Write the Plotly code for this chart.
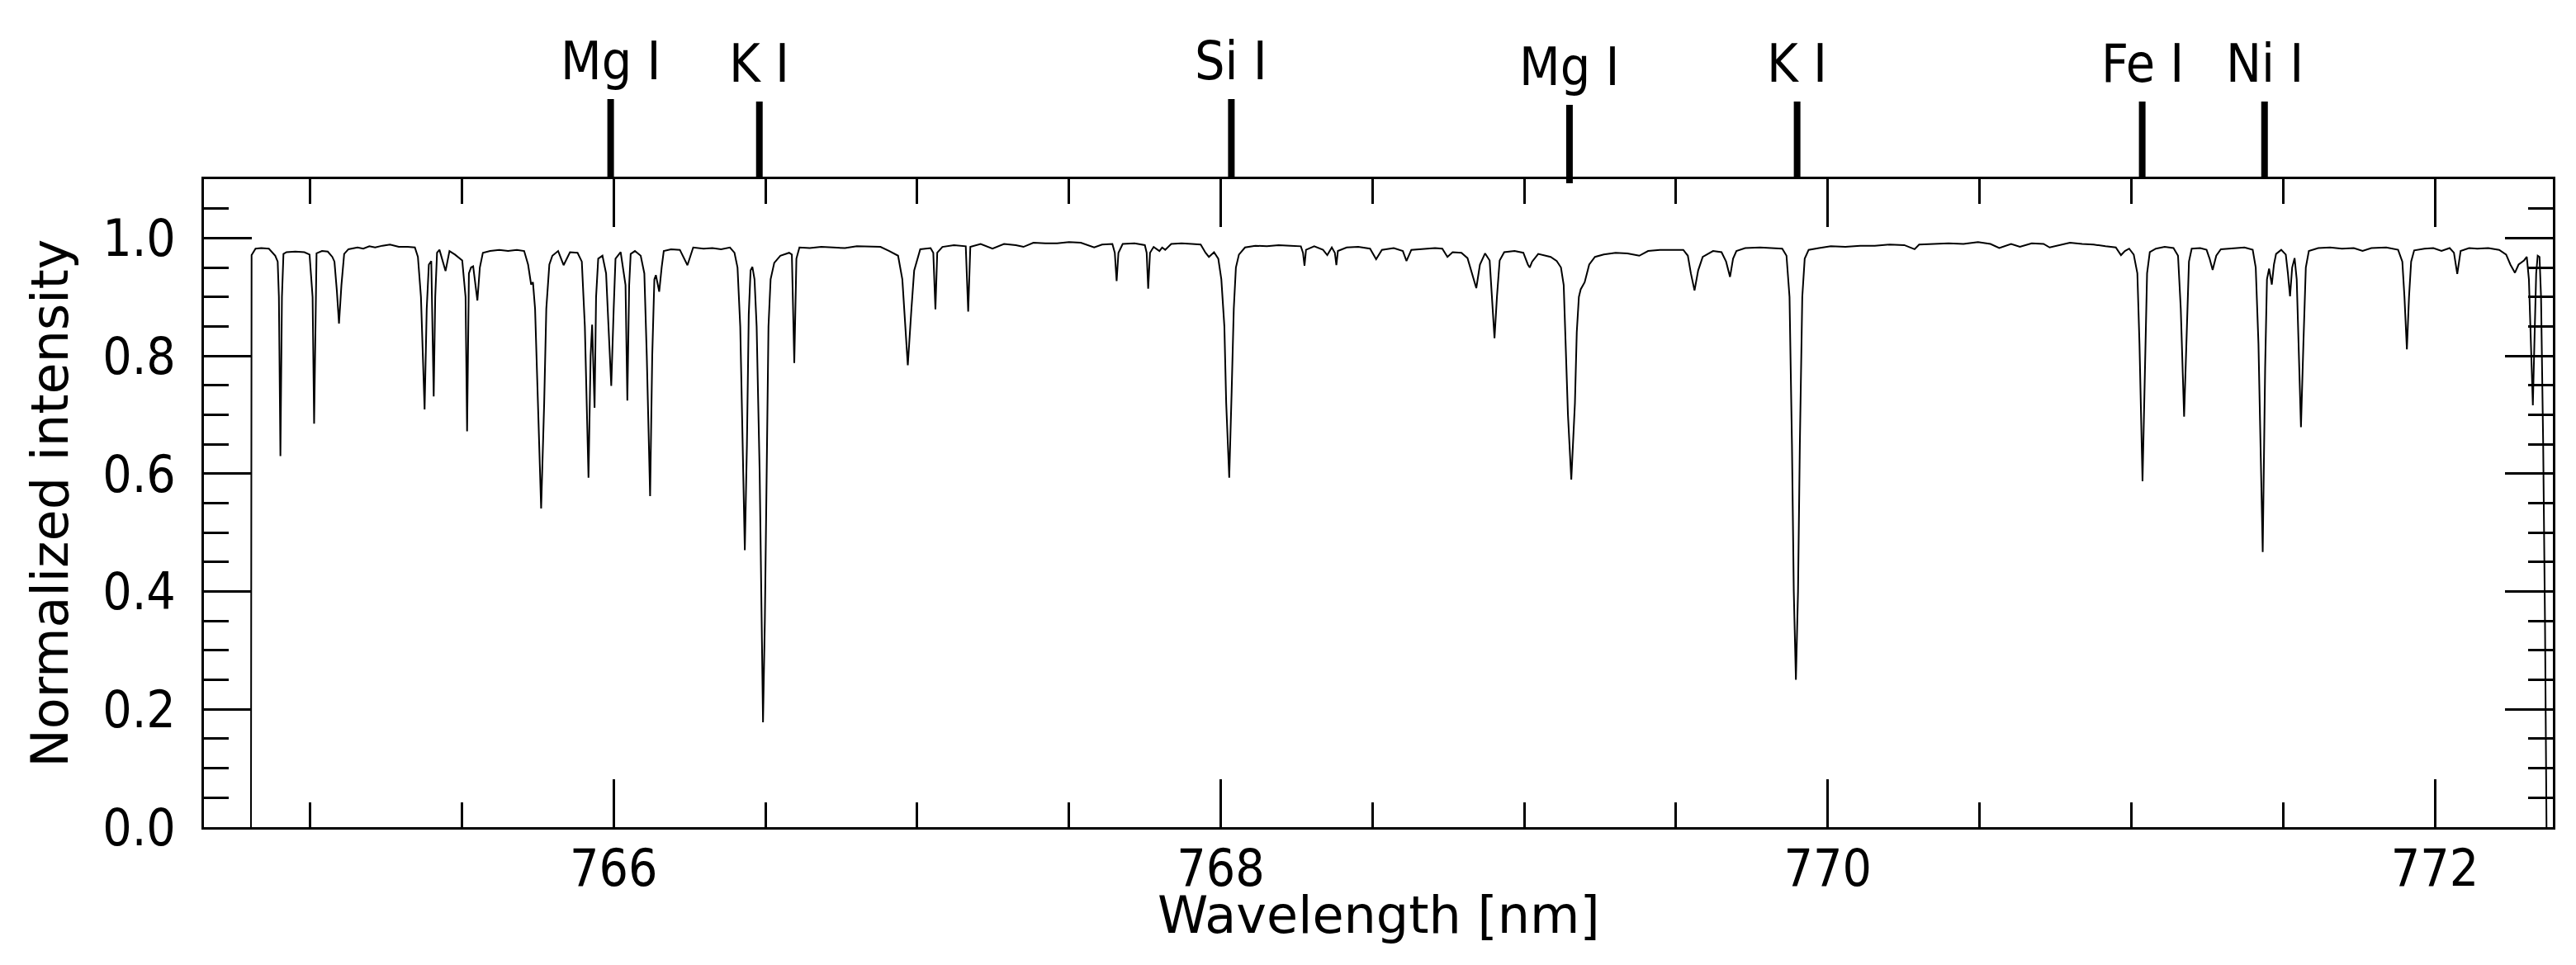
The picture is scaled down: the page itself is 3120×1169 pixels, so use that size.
import plotly.graph_objects as go

# spectrum, point by point
wavelength = [
    764.805, 764.807, 764.820, 764.839, 764.864, 764.885, 764.893, 764.897, 764.902, 764.907, 764.912,
    764.922, 764.951, 764.981, 764.998, 765.008, 765.013, 765.018, 765.021, 765.039, 765.058, 765.073,
    765.080, 765.088, 765.095, 765.103, 765.112, 765.126, 765.156, 765.175, 765.195, 765.214, 765.238,
    765.263, 765.292, 765.321, 765.345, 765.355, 765.365, 765.377, 765.384, 765.391, 765.399, 765.407,
    765.412, 765.418, 765.426, 765.446, 765.459, 765.477, 765.501, 765.512, 765.517, 765.523, 765.530,
    765.537, 765.551, 765.559, 765.569, 765.593, 765.623, 765.652, 765.681, 765.705, 765.718, 765.728,
    765.734, 765.741, 765.749, 765.761, 765.771, 765.778, 765.788, 765.798, 765.817, 765.835, 765.856,
    765.881, 765.895, 765.905, 765.917, 765.924, 765.929, 765.937, 765.942, 765.949, 765.963, 765.975,
    765.982, 765.992, 766.000, 766.006, 766.023, 766.039, 766.045, 766.051, 766.056, 766.070, 766.089,
    766.101, 766.109, 766.120, 766.127, 766.134, 766.139, 766.150, 766.158, 766.165, 766.189, 766.218,
    766.243, 766.262, 766.296, 766.325, 766.354, 766.383, 766.398, 766.408, 766.417, 766.425, 766.432,
    766.439, 766.445, 766.451, 766.457, 766.464, 766.471, 766.481, 766.487, 766.492, 766.498, 766.504,
    766.510, 766.517, 766.529, 766.549, 766.578, 766.587, 766.595, 766.602, 766.612, 766.646, 766.684,
    766.723, 766.762, 766.801, 766.840, 766.879, 766.908, 766.937, 766.951, 766.969, 766.981, 766.990,
    767.010, 767.044, 767.053, 767.060, 767.066, 767.083, 767.121, 767.160, 767.168, 767.175, 767.209,
    767.248, 767.286, 767.325, 767.350, 767.383, 767.422, 767.461, 767.500, 767.539, 767.583, 767.609,
    767.643, 767.651, 767.657, 767.663, 767.677, 767.716, 767.750, 767.756, 767.761, 767.767, 767.779,
    767.798, 767.807, 767.817, 767.837, 767.871, 767.905, 767.934, 767.950, 767.961, 767.978, 767.992,
    768.002, 768.012, 768.018, 768.028, 768.036, 768.043, 768.050, 768.060, 768.080, 768.114, 768.152,
    768.191, 768.230, 768.264, 768.271, 768.276, 768.281, 768.308, 768.337, 768.351, 768.366, 768.376,
    768.381, 768.386, 768.415, 768.453, 768.492, 768.512, 768.531, 768.570, 768.600, 768.612, 768.628,
    768.667, 768.706, 768.730, 768.747, 768.764, 768.793, 768.813, 768.828, 768.842, 768.854, 768.871,
    768.886, 768.894, 768.902, 768.910, 768.919, 768.934, 768.968, 768.997, 769.012, 769.018, 769.026,
    769.046, 769.068, 769.087, 769.107, 769.121, 769.130, 769.138, 769.144, 769.155, 769.167, 769.173,
    769.180, 769.186, 769.199, 769.214, 769.233, 769.262, 769.301, 769.340, 769.379, 769.408, 769.447,
    769.485, 769.524, 769.539, 769.549, 769.561, 769.573, 769.588, 769.622, 769.650, 769.665, 769.678,
    769.688, 769.699, 769.728, 769.777, 769.816, 769.850, 769.864, 769.874, 769.882, 769.888, 769.895,
    769.902, 769.908, 769.916, 769.924, 769.937, 769.971, 770.010, 770.058, 770.107, 770.155, 770.204,
    770.252, 770.286, 770.301, 770.350, 770.398, 770.447, 770.495, 770.536, 770.565, 770.604, 770.633,
    770.672, 770.711, 770.731, 770.769, 770.798, 770.838, 770.876, 770.915, 770.949, 770.966, 770.979,
    770.993, 771.008, 771.020, 771.027, 771.037, 771.045, 771.052, 771.061, 771.081, 771.110, 771.139,
    771.154, 771.163, 771.174, 771.183, 771.190, 771.199, 771.227, 771.248, 771.258, 771.268, 771.280,
    771.295, 771.334, 771.373, 771.400, 771.410, 771.419, 771.433, 771.441, 771.447, 771.454, 771.463,
    771.470, 771.477, 771.494, 771.509, 771.516, 771.523, 771.530, 771.538, 771.545, 771.553, 771.559,
    771.567, 771.575, 771.585, 771.616, 771.655, 771.694, 771.733, 771.762, 771.791, 771.840, 771.879,
    771.893, 771.900, 771.908, 771.915, 771.922, 771.932, 771.966, 771.995, 772.022, 772.049, 772.063,
    772.074, 772.085, 772.113, 772.140, 772.176, 772.212, 772.235, 772.249, 772.264, 772.276, 772.294,
    772.303, 772.310, 772.316, 772.323, 772.328, 772.334, 772.339, 772.345, 772.350, 772.357, 772.363,
    772.368,
]
intensity = [
    0.000, 0.971, 0.982, 0.983, 0.982, 0.970, 0.960, 0.900, 0.630, 0.900, 0.973,
    0.976, 0.977, 0.976, 0.972, 0.900, 0.685, 0.900, 0.974, 0.978, 0.977, 0.968,
    0.960, 0.910, 0.855, 0.920, 0.973, 0.981, 0.984, 0.982, 0.986, 0.984, 0.987,
    0.989, 0.985, 0.985, 0.984, 0.968, 0.900, 0.709, 0.880, 0.955, 0.961, 0.731,
    0.900, 0.975, 0.980, 0.944, 0.978, 0.972, 0.962, 0.900, 0.672, 0.940, 0.950,
    0.952, 0.894, 0.950, 0.975, 0.978, 0.980, 0.978, 0.980, 0.978, 0.955, 0.921,
    0.925, 0.880, 0.750, 0.541, 0.720, 0.880, 0.955, 0.970, 0.978, 0.954, 0.976,
    0.975, 0.960, 0.850, 0.593, 0.800, 0.853, 0.712, 0.900, 0.965, 0.970, 0.940,
    0.860, 0.749, 0.880, 0.965, 0.976, 0.920, 0.724, 0.920, 0.973, 0.978, 0.970,
    0.940, 0.800, 0.562, 0.800, 0.930, 0.937, 0.909, 0.950, 0.978, 0.981, 0.980,
    0.954, 0.984, 0.982, 0.983, 0.981, 0.984, 0.975, 0.950, 0.850, 0.650, 0.470,
    0.650, 0.870, 0.945, 0.951, 0.930, 0.850, 0.600, 0.350, 0.178, 0.350, 0.600,
    0.850, 0.930, 0.958, 0.970, 0.975, 0.972, 0.788, 0.965, 0.984, 0.983, 0.985,
    0.984, 0.983, 0.986, 0.985, 0.985, 0.978, 0.970, 0.930, 0.784, 0.880, 0.945,
    0.981, 0.983, 0.975, 0.879, 0.975, 0.985, 0.988, 0.986, 0.875, 0.985, 0.990,
    0.982, 0.990, 0.988, 0.985, 0.992, 0.991, 0.991, 0.993, 0.992, 0.984, 0.989,
    0.990, 0.975, 0.927, 0.975, 0.990, 0.991, 0.988, 0.975, 0.914, 0.975, 0.985,
    0.978, 0.984, 0.980, 0.990, 0.991, 0.990, 0.989, 0.975, 0.968, 0.976, 0.965,
    0.930, 0.850, 0.720, 0.593, 0.740, 0.880, 0.950, 0.972, 0.984, 0.987, 0.986,
    0.988, 0.987, 0.986, 0.975, 0.953, 0.980, 0.986, 0.980, 0.971, 0.984, 0.975,
    0.954, 0.978, 0.984, 0.985, 0.982, 0.964, 0.980, 0.983, 0.978, 0.961, 0.980,
    0.982, 0.983, 0.982, 0.968, 0.976, 0.975, 0.966, 0.940, 0.915, 0.955, 0.974,
    0.962, 0.900, 0.830, 0.900, 0.962, 0.976, 0.978, 0.975, 0.955, 0.950, 0.960,
    0.973, 0.970, 0.968, 0.961, 0.950, 0.920, 0.800, 0.700, 0.590, 0.720, 0.840,
    0.900, 0.913, 0.925, 0.955, 0.968, 0.972, 0.975, 0.974, 0.970, 0.978, 0.980,
    0.980, 0.980, 0.970, 0.940, 0.911, 0.945, 0.968, 0.978, 0.976, 0.960, 0.934,
    0.965, 0.978, 0.983, 0.984, 0.983, 0.982, 0.970, 0.900, 0.650, 0.400, 0.250,
    0.400, 0.650, 0.900, 0.965, 0.980, 0.983, 0.986, 0.985, 0.987, 0.987, 0.989,
    0.988, 0.981, 0.989, 0.990, 0.991, 0.990, 0.993, 0.990, 0.983, 0.990, 0.985,
    0.991, 0.990, 0.984, 0.988, 0.992, 0.990, 0.989, 0.986, 0.984, 0.971, 0.978,
    0.982, 0.972, 0.940, 0.820, 0.587, 0.800, 0.940, 0.976, 0.982, 0.985, 0.983,
    0.970, 0.880, 0.697, 0.860, 0.960, 0.982, 0.983, 0.980, 0.965, 0.946, 0.970,
    0.981, 0.983, 0.984, 0.980, 0.950, 0.820, 0.467, 0.780, 0.930, 0.948, 0.921,
    0.955, 0.973, 0.980, 0.972, 0.940, 0.901, 0.950, 0.966, 0.930, 0.780, 0.679,
    0.820, 0.950, 0.978, 0.983, 0.984, 0.982, 0.983, 0.978, 0.983, 0.984, 0.980,
    0.960, 0.900, 0.811, 0.900, 0.960, 0.979, 0.982, 0.983, 0.978, 0.983, 0.975,
    0.939, 0.978, 0.983, 0.982, 0.983, 0.980, 0.972, 0.955, 0.941, 0.955, 0.962,
    0.968, 0.930, 0.820, 0.716, 0.820, 0.940, 0.970, 0.968, 0.900, 0.650, 0.350,
    0.000,
]

# identified lines marked above the frame
line_names = ["Mg I", "K I", "Si I", "Mg I", "K I", "Fe I", "Ni I"]
line_wl = [765.99, 766.48, 768.035, 769.149, 769.899, 771.036, 771.439]

# the page body adds 8px on the left and top, so the figure is 8px smaller
W, H = 3112, 1161
ml, mr, mt, mb = 239, 28, 209, 167
plot_h = H - mt - mb
# bar ends in pixels relative to the top of the frame (up is positive)
bar_top_px = [97, 94, 97, 90, 94, 94, 94]
bar_bot_px = [0, 0, 0, -5, 0, 0, 0]

fig = go.Figure()
fig.add_trace(go.Scatter(x=wavelength, y=intensity, mode="lines",
                         line=dict(color="black", width=2), hoverinfo="skip"))

for name, wl, top, bot in zip(line_names, line_wl, bar_top_px, bar_bot_px):
    y_top = 1 + top / plot_h
    fig.add_shape(type="line", xref="x", yref="paper", x0=wl, x1=wl,
                  y0=1 + bot / plot_h, y1=y_top,
                  line=dict(color="black", width=8))
    fig.add_annotation(x=wl, y=y_top, xref="x", yref="paper", text=name,
                       showarrow=False, xanchor="center", yanchor="bottom", yshift=7,
                       font=dict(family="DejaVu Sans Condensed, DejaVu Sans", size=64, color="black"))

title_font = dict(family="DejaVu Sans", size=62, color="black")
tick_font = dict(family="DejaVu Sans Condensed, DejaVu Sans", size=62, color="black")
axis_common = dict(showline=True, linecolor="black", linewidth=2.5, mirror="ticks",
                   ticks="inside", ticklen=58, tickwidth=2.5, tickcolor="black",
                   showgrid=False, zeroline=False, tickfont=tick_font)

fig.update_xaxes(range=[764.65, 772.389], tick0=766, dtick=2, tickformat="d",
                 minor=dict(dtick=0.5, ticklen=30, tickwidth=2.5, tickcolor="black", ticks="inside"),
                 ticklabelstandoff=-6, **axis_common)
fig.update_yaxes(range=[0, 1.1], tick0=0, dtick=0.2, tickformat=".1f",
                 minor=dict(dtick=0.05, ticklen=30, tickwidth=2.5, tickcolor="black", ticks="inside"),
                 ticklabelstandoff=19,
                 title=dict(text="Normalized intensity", standoff=22, font=title_font),
                 **axis_common)

# x title placed by hand so it sits tight under the tick labels
fig.add_annotation(x=0.5, y=0, xref="paper", yref="paper", text="Wavelength [nm]",
                   showarrow=False, xanchor="center", yanchor="top", yshift=-68,
                   font=title_font)

fig.update_layout(width=W, height=H, margin=dict(l=ml, r=mr, t=mt, b=mb),
                  plot_bgcolor="white", paper_bgcolor="white", showlegend=False)

fig.write_html("out.html")
